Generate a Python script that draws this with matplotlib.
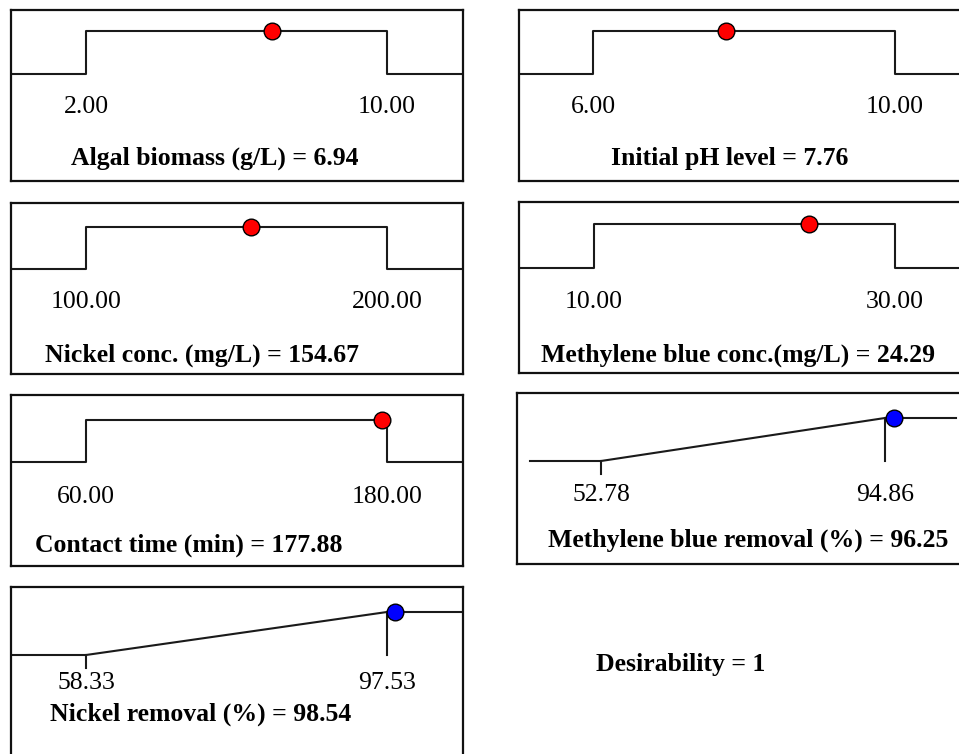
import matplotlib
matplotlib.use("agg")
import matplotlib.pyplot as plt
import matplotlib.transforms as mtransforms

plt.rcParams["font.family"] = ["Liberation Serif", "DejaVu Serif"]

# desirability ramps (Design-Expert style)
names = ["Algal biomass (g/L)", "Initial pH level", "Nickel conc. (mg/L)",
         "Methylene blue conc.(mg/L)", "Contact time (min)",
         "Methylene blue removal (%)", "Nickel removal (%)"]
lows = [2.00, 6.00, 100.00, 10.00, 60.00, 52.78, 58.33]
highs = [10.00, 10.00, 200.00, 30.00, 180.00, 94.86, 97.53]
optimum = [6.94, 7.76, 154.67, 24.29, 177.88, 96.25, 98.54]
goal = ["range", "range", "range", "range", "range", "maximize", "maximize"]
desirability = 1

W, H = 959, 754
BOX_W, BOX_H = 452, 171

# layout in pixels: box left, box top, x of low limit, x of high limit,
# offset of d=1 and d=0 below box top, tick label / name label offsets, name x centre
layout = [
    (11, 10, 86, 387, 21, 64, 97, 148, 215),
    (519, 10, 593, 895, 21, 64, 97, 148, 730),
    (11, 203, 86, 387, 24, 66, 99, 152, 202),
    (519, 202, 594, 895, 22, 66, 100, 153, 738),
    (11, 395, 86, 387, 25, 67, 102, 150, 189),
    (517, 393, 601, 885, 25, 68, 102, 147, 748),
    (11, 587, 86, 387, 25, 68, 96, 127, 201),
]

fig = plt.figure(figsize=(W / 100, H / 100), dpi=100)

for i, name in enumerate(names):
    left, top, px_lo, px_hi, off1, off0, tick_off, name_off, name_x = layout[i]
    lo, hi, val = lows[i], highs[i], optimum[i]
    ax = fig.add_axes([left / W, 1 - (top + BOX_H) / H, BOX_W / W, BOX_H / H])

    scale = (hi - lo) / (px_hi - px_lo)
    ax.set_xlim(lo + (left - px_lo) * scale, lo + (left + BOX_W - px_lo) * scale)
    per = off0 - off1
    ax.set_ylim(-(BOX_H - off0) / per, 1 + off1 / per)

    span = hi - lo
    x0, x1 = lo - 0.25 * span, hi + 0.25 * span
    if goal[i] == "range":
        ax.plot([x0, lo, lo, hi, hi, x1], [0, 0, 1, 1, 0, 0], color="#1a1a1a", lw=1.5)
        color = "#ff0000"
    else:
        ax.plot([x0, lo, hi, x1], [0, 0, 1, 1], color="#1a1a1a", lw=1.5)
        ax.plot([lo, lo], [0, -0.3], color="#1a1a1a", lw=1.5)
        ax.plot([hi, hi], [0, 1], color="#1a1a1a", lw=1.5)
        color = "#0000ff"
    ax.plot([val], [desirability], "o", ms=12, mfc=color, mec="black", mew=1, zorder=5)

    trans = mtransforms.blended_transform_factory(ax.transData, ax.transAxes)
    for v in (lo, hi):
        ax.text(v, 1 - tick_off / BOX_H, f"{v:.2f}", transform=trans,
                ha="center", va="center", fontsize=18.5)

    fig.text(name_x / W, 1 - (top + name_off) / H, f"{name} = {val:.2f}",
             ha="center", va="center", fontsize=18.5, fontweight="bold")

    ax.set_xticks([])
    ax.set_yticks([])
    for s in ax.spines.values():
        s.set_linewidth(1.6)
        s.set_color("#111111")

fig.text(681 / W, 1 - 664 / H, f"Desirability = {desirability}",
         ha="center", va="center", fontsize=18.5, fontweight="bold")

fig.savefig("out.png", dpi=100)
